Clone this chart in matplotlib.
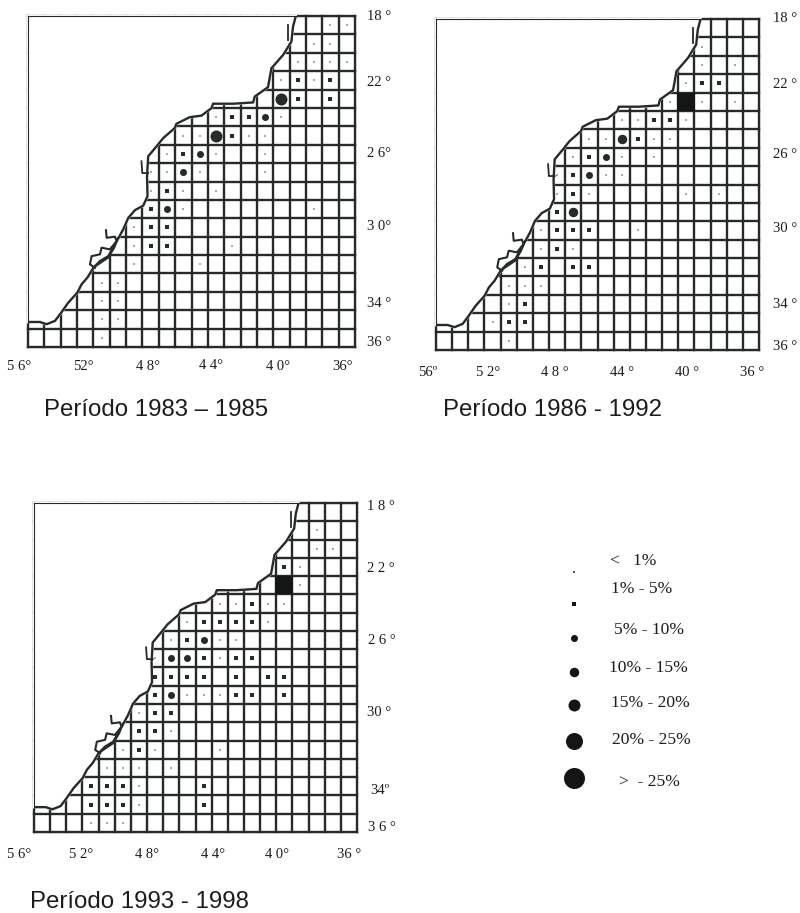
import matplotlib
matplotlib.use('Agg')
import matplotlib.pyplot as plt

W, H = 800, 913
DARK = '#262a2a'

# coastline, lon (deg W) / lat (deg S)
coast_lon = [56, 55.27, 54.86, 54.35, 54.0, 53.54, 52.99, 52.72, 52.37, 52.0, 51.6, 51.09, 50.68, 50.18,
             49.87, 49.46, 48.95, 48.69, 48.72, 48.65, 48.14, 47.73, 47.02, 46.92, 46.1, 45.39, 44.78,
             44.68, 43.45, 42.23, 42.13, 41.32, 41.11, 40.4, 39.89, 39.79, 39.63]
coast_lat = [34.64, 34.64, 34.76, 34.58, 34.17, 33.59, 33.05, 32.59, 32.23, 31.69, 31.33, 31.06, 30.42, 29.61,
             28.98, 28.56, 28.31, 27.8, 26.72, 25.63, 25.09, 24.64, 24.09, 23.86, 23.5, 23.42, 23.01,
             22.77, 22.77, 22.7, 22.38, 21.87, 20.84, 20.12, 19.39, 18.58, 18.04]
bay_lon = [51.23, 51.19, 50.68, 50.58, 50.99, 51.5, 51.6, 52.11, 52.21, 51.9]
bay_lat = [29.65, 30.06, 30.0, 30.24, 30.69, 30.6, 30.96, 31.06, 31.51, 31.69]
spit_lon = [50.5, 50.72, 51.1, 52.02]
spit_lat = [30.07, 30.6, 31.15, 31.7]
isle_lon = [49.06, 49.01, 48.65]
isle_lat = [25.9, 26.54, 26.54]
north_lon = [40.09, 40.09]
north_lat = [18.5, 19.3]

# marks per panel: cell centre and size class (0 = <1% ... 6 = >25%)
lon_a = [37.5, 36.5,
         38.5, 37.5,
         39.5, 38.5, 37.5, 36.5,
         40.5, 39.5, 38.5, 37.5,
         40.5, 39.5, 37.5,
         44.5, 43.5, 42.5, 41.5, 40.5,
         46.5, 45.5, 44.5, 43.5, 42.5, 41.5,
         47.5, 46.5, 45.5, 44.5, 41.5,
         48.5, 47.5, 46.5, 45.5, 41.5,
         48.5, 47.5, 46.5, 44.5,
         48.5, 47.5, 46.5, 38.5,
         49.5, 48.5, 47.5,
         49.5, 48.5, 47.5, 43.5,
         49.5, 45.5,
         51.5, 50.5,
         51.5, 50.5,
         51.5, 50.5,
         51.5]
lat_a = [18.5, 18.5,
         19.5, 19.5,
         20.5, 20.5, 20.5, 20.5,
         21.5, 21.5, 21.5, 21.5,
         22.5, 22.5, 22.5,
         23.5, 23.5, 23.5, 23.5, 23.5,
         24.5, 24.5, 24.5, 24.5, 24.5, 24.5,
         25.5, 25.5, 25.5, 25.5, 25.5,
         26.5, 26.5, 26.5, 26.5, 26.5,
         27.5, 27.5, 27.5, 27.5,
         28.5, 28.5, 28.5, 28.5,
         29.5, 29.5, 29.5,
         30.5, 30.5, 30.5, 30.5,
         31.5, 31.5,
         32.5, 32.5,
         33.5, 33.5,
         34.5, 34.5,
         35.5]
cls_a = [0, 0,
         0, 0,
         0, 0, 0, 0,
         0, 1, 0, 1,
         4, 1, 1,
         0, 1, 1, 2, 0,
         0, 0, 4, 1, 0, 0,
         0, 1, 2, 0, 0,
         0, 0, 2, 0, 0,
         0, 1, 0, 0,
         1, 2, 0, 0,
         0, 1, 1,
         0, 1, 1, 0,
         0, 0,
         0, 0,
         0, 0,
         0, 0,
         0]

lon_b = [39.5,
         39.5, 37.5,
         40.5, 39.5, 38.5,
         41.5, 40.5, 39.5, 37.5,
         44.5, 43.5, 42.5, 41.5, 40.5,
         46.5, 45.5, 44.5, 43.5, 42.5, 41.5,
         47.5, 46.5, 45.5, 44.5, 42.5,
         48.5, 47.5, 46.5, 45.5, 44.5,
         48.5, 47.5, 46.5, 40.5, 38.5,
         48.5, 47.5,
         49.5, 48.5, 47.5, 46.5, 43.5,
         49.5, 48.5, 47.5,
         50.5, 49.5, 47.5, 46.5,
         51.5, 50.5, 49.5,
         51.5, 50.5,
         52.5, 51.5, 50.5,
         51.5]
lat_b = [19.5,
         20.5, 20.5,
         21.5, 21.5, 21.5,
         22.5, 22.5, 22.5, 22.5,
         23.5, 23.5, 23.5, 23.5, 23.5,
         24.5, 24.5, 24.5, 24.5, 24.5, 24.5,
         25.5, 25.5, 25.5, 25.5, 25.5,
         26.5, 26.5, 26.5, 26.5, 26.5,
         27.5, 27.5, 27.5, 27.5, 27.5,
         28.5, 28.5,
         29.5, 29.5, 29.5, 29.5, 29.5,
         30.5, 30.5, 30.5,
         31.5, 31.5, 31.5, 31.5,
         32.5, 32.5, 32.5,
         33.5, 33.5,
         34.5, 34.5, 34.5,
         35.5]
cls_b = [0,
         0, 0,
         0, 1, 1,
         0, 6, 0, 0,
         0, 0, 1, 1, 0,
         0, 0, 3, 1, 0, 0,
         0, 1, 2, 0, 0,
         0, 1, 2, 0, 0,
         0, 1, 0, 0, 0,
         1, 3,
         0, 1, 1, 1, 0,
         0, 1, 0,
         0, 1, 1, 1,
         0, 0, 0,
         0, 1,
         0, 1, 1,
         0]

lon_c = [38.5,
         38.5, 37.5,
         40.5, 39.5,
         40.5, 39.5,
         44.5, 43.5, 42.5, 41.5, 40.5,
         46.5, 45.5, 44.5, 43.5, 42.5, 41.5,
         47.5, 46.5, 45.5, 44.5, 43.5,
         48.5, 47.5, 46.5, 45.5, 44.5, 43.5, 42.5,
         48.5, 47.5, 46.5, 45.5, 43.5, 41.5, 40.5,
         48.5, 47.5, 46.5, 45.5, 44.5, 43.5, 42.5, 40.5,
         49.5, 48.5, 47.5,
         49.5, 48.5, 47.5,
         50.5, 49.5, 48.5, 44.5,
         51.5, 50.5, 49.5, 47.5,
         52.5, 51.5, 50.5, 49.5, 45.5,
         52.5, 51.5, 50.5, 49.5, 45.5,
         52.5, 51.5, 50.5]
lat_c = [19.5,
         20.5, 20.5,
         21.5, 21.5,
         22.5, 22.5,
         23.5, 23.5, 23.5, 23.5, 23.5,
         24.5, 24.5, 24.5, 24.5, 24.5, 24.5,
         25.5, 25.5, 25.5, 25.5, 25.5,
         26.5, 26.5, 26.5, 26.5, 26.5, 26.5, 26.5,
         27.5, 27.5, 27.5, 27.5, 27.5, 27.5, 27.5,
         28.5, 28.5, 28.5, 28.5, 28.5, 28.5, 28.5, 28.5,
         29.5, 29.5, 29.5,
         30.5, 30.5, 30.5,
         31.5, 31.5, 31.5, 31.5,
         32.5, 32.5, 32.5, 32.5,
         33.5, 33.5, 33.5, 33.5, 33.5,
         34.5, 34.5, 34.5, 34.5, 34.5,
         35.5, 35.5, 35.5]
cls_c = [0,
         0, 0,
         1, 0,
         6, 0,
         0, 0, 1, 0, 0,
         0, 1, 1, 1, 1, 0,
         0, 1, 2, 0, 0,
         0, 2, 2, 1, 0, 1, 1,
         1, 1, 1, 1, 1, 1, 1,
         1, 2, 0, 0, 0, 1, 1, 1,
         0, 1, 1,
         1, 1, 0,
         0, 1, 0, 0,
         0, 0, 0, 0,
         1, 1, 1, 0, 1,
         1, 1, 1, 0, 1,
         0, 0, 0]

legend_labels = ['<   1%', '1% - 5%', '5% - 10%', '10% - 15%', '15% - 20%', '20% - 25%', '>  - 25%']
legend_classes = [0, 1, 2, 3, 4, 5, 6]

# class styles: diameter in pixels, marker, colour
class_px = [1.6, 3.4, 7, 9.5, 12, 17, 21]
class_marker = ['s', 's', 'o', 'o', 'o', 'o', 'o']
class_color = ['#a8a8a8', DARK, DARK, DARK, DARK, '#141616', '#141616']

fig = plt.figure(figsize=(W / 100, H / 100), dpi=100)
plt.rcParams['font.family'] = ['Liberation Serif', 'DejaVu Serif']


def pixel_text(x, y, s, size=10.5, ha='center', family='Liberation Serif'):
    fig.text(x / W, 1 - y / H, s, fontsize=size, ha=ha, va='center', family=family, color='#1c1c1c')


def draw_map(box, lon, lat, cls):
    x0, y0, x1, y1 = box
    ax = fig.add_axes([x0 / W, 1 - y1 / H, (x1 - x0) / W, (y1 - y0) / H])
    ax.set_xlim(56, 36)
    ax.set_ylim(36, 18)
    ax.set_xticks([])
    ax.set_yticks([])
    for v in range(36, 57):
        ax.plot([v, v], [18, 36], color=DARK, lw=1.7, clip_on=False, zorder=1, solid_capstyle='projecting')
    for h in range(18, 37):
        ax.plot([36, 56], [h, h], color=DARK, lw=1.7, clip_on=False, zorder=1, solid_capstyle='projecting')
    # land hides the grid, then the coast goes over it
    ax.fill(coast_lon + [39.63, 56], coast_lat + [18, 18], color='white', zorder=2, clip_on=False, lw=2)
    ax.plot(coast_lon, coast_lat, color=DARK, lw=1.7, zorder=3)
    ax.plot(bay_lon, bay_lat, color=DARK, lw=1.5, zorder=3)
    ax.plot(spit_lon, spit_lat, color=DARK, lw=1.3, zorder=3)
    ax.plot(isle_lon, isle_lat, color=DARK, lw=1.3, zorder=3)
    ax.plot(north_lon, north_lat, color=DARK, lw=1.3, zorder=3)
    for k in range(7):
        xs = [a for a, c in zip(lon, cls) if c == k]
        ys = [b for b, c in zip(lat, cls) if c == k]
        marker = 's' if k == 6 else class_marker[k]
        px = 17.5 if k == 6 else class_px[k]
        ax.scatter(xs, ys, s=(px * 0.72) ** 2, marker=marker, color=class_color[k], linewidths=0, zorder=4)
    for side in ax.spines.values():
        side.set_linewidth(0.8)
        side.set_color(DARK)
        side.set_zorder(5)
    return ax


draw_map((28, 16, 355, 347), lon_a, lat_a, cls_a)
draw_map((436, 19, 759, 350), lon_b, lat_b, cls_b)
draw_map((34, 503, 357, 832), lon_c, lat_c, cls_c)

# panel 1 labels
for x, y, s in [(19, 367, '5 6°'), (83, 367, '52°'), (148, 367, '4 8°'),
                (211, 365, '4 4°'), (278, 367, '4 0°'), (343, 367, '36°')]:
    pixel_text(x, y, s)
for y, s in [(16, '18 °'), (82, '22 °'), (153, '2 6°'), (227, '3 0°'), (303, '34 °'), (342, '36 °')]:
    pixel_text(367, y, s, ha='left')

# panel 2 labels
for x, s in [(428, '56º'), (488, '5 2°'), (555, '4 8 °'), (622, '44 °'), (687, '40 °'), (752, '36 °')]:
    pixel_text(x, 372, s)
for y, s in [(18, '18 °'), (84, '22 °'), (155, '26 °'), (228, '30 °'), (305, '34 °'), (346, '36 °')]:
    pixel_text(773, y, s, ha='left')

# panel 3 labels
for x, s in [(19, '5 6°'), (81, '5 2°'), (147, '4 8°'), (213, '4 4°'), (277, '4 0°'), (349, '36 °')]:
    pixel_text(x, 854, s)
for x, y, s in [(367, 506, '1 8 °'), (367, 568, '2 2 °'), (368, 640, '2 6 °'),
                (367, 712, '30 °'), (370, 790, '34º'), (368, 827, '3 6 °')]:
    pixel_text(x, y, s, ha='left')

# captions
pixel_text(44, 410, 'Período 1983 – 1985', size=17.3, ha='left', family='Liberation Sans')
pixel_text(443, 410, 'Período 1986 - 1992', size=17.3, ha='left', family='Liberation Sans')
pixel_text(30, 902, 'Período 1993 - 1998', size=17.3, ha='left', family='Liberation Sans')

# legend marks share one overlay axes in pixel space
lg = fig.add_axes([0, 0, 1, 1])
lg.set_xlim(0, W)
lg.set_ylim(H, 0)
lg.axis('off')
lg.patch.set_alpha(0)
legend_y = [572, 604, 638, 672, 705, 741, 778]
legend_text_x = [610, 611, 614, 609, 611, 612, 619]
legend_text_y = [561, 589, 630, 668, 703, 740, 782]
for k, my, tx, ty, s in zip(legend_classes, legend_y, legend_text_x, legend_text_y, legend_labels):
    lg.scatter([574], [my], s=(class_px[k] * 0.72) ** 2, marker=class_marker[k],
               color='#5a5a5a' if k == 0 else '#141616', linewidths=0)
    pixel_text(tx, ty, s, size=12.6, ha='left')

fig.savefig('out.png', dpi=100)
